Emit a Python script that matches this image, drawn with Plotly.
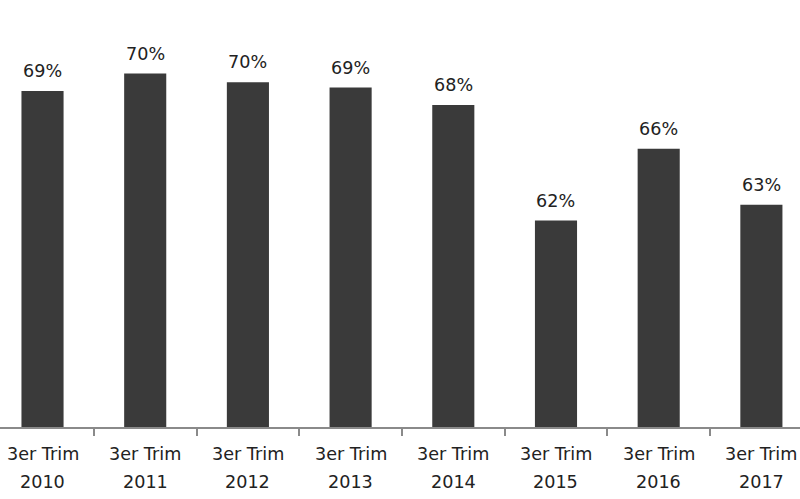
import plotly.graph_objects as go

categories = ["2010", "2011", "2012", "2013", "2014", "2015", "2016", "2017"]
period_label = "3er Trim"
values = [69.2, 70.2, 69.7, 69.4, 68.4, 61.8, 65.9, 62.7]
value_labels = ["69%", "70%", "70%", "69%", "68%", "62%", "66%", "63%"]

FONT = "DejaVu Sans"
TEXT_COLOR = "#222222"
BAR_COLOR = "#3a3a3a"
FS = 17.6

fig = go.Figure()
fig.add_trace(go.Bar(
    x=categories, y=values, width=0.41,
    marker=dict(color=BAR_COLOR, line=dict(width=0)),
    hoverinfo="skip",
))

annotations = []
for i, (c, v, t) in enumerate(zip(categories, values, value_labels)):
    annotations.append(dict(x=i, y=v, xref="x", yref="y", text=t, showarrow=False,
                            yanchor="bottom", yshift=8,
                            font=dict(family=FONT, size=FS, color=TEXT_COLOR)))
    annotations.append(dict(x=i, y=0, xref="x", yref="paper", text=period_label, showarrow=False,
                            yanchor="top", yshift=-15,
                            font=dict(family=FONT, size=FS, color=TEXT_COLOR)))
    annotations.append(dict(x=i, y=0, xref="x", yref="paper", text=c, showarrow=False,
                            yanchor="top", yshift=-43,
                            font=dict(family=FONT, size=FS, color=TEXT_COLOR)))

fig.update_layout(
    width=800, height=499,
    margin=dict(l=0, r=0, t=0, b=72),
    paper_bgcolor="white", plot_bgcolor="white",
    showlegend=False,
    annotations=annotations,
    xaxis=dict(type="category", range=[-0.414, 7.376], showline=True, linecolor="#8a8a8a",
               linewidth=1.5, ticks="outside", tickson="boundaries", ticklen=7,
               tickcolor="#8a8a8a", tickwidth=1.5, showticklabels=False, showgrid=False,
               zeroline=False),
    yaxis=dict(range=[50, 50 + 427 / 17.5], visible=False, showgrid=False, zeroline=False),
)

fig.write_html("out.html", config={"displayModeBar": False},
               post_script="document.body.style.margin='0';")
